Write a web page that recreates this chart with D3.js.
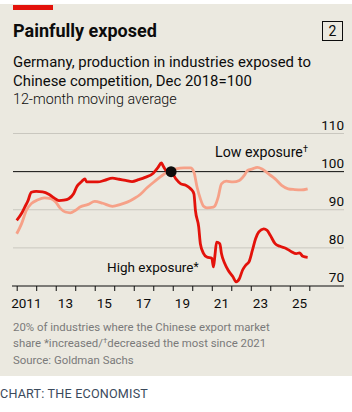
<!DOCTYPE html>
<html>
<head>
<meta charset="utf-8">
<script src="https://cdn.jsdelivr.net/npm/d3@7"></script>
<style>
  body { margin: 0; background: #fff; }
  svg { display: block; font-family: Roboto, "Noto Sans", sans-serif; }
</style>
</head>
<body>
<div id="chart"></div>
<script>
// data, Dec 2018 = 100
var highDates = ["2011-01","2011-04","2011-06","2011-08","2011-10","2012-01","2012-05","2012-09","2012-12",
  "2013-03","2013-06","2013-09","2013-12","2014-02","2014-05","2014-07","2014-08","2014-10","2015-03",
  "2015-07","2015-12","2016-04","2016-08","2016-12","2017-04","2017-08","2018-01","2018-04","2018-06",
  "2018-07","2018-09","2018-12","2019-03","2019-06","2019-09","2019-12","2020-02","2020-03","2020-05",
  "2020-06","2020-08","2020-10","2021-01","2021-02","2021-03","2021-04","2021-06","2021-07","2021-09",
  "2021-11","2022-02","2022-04","2022-06","2022-08","2022-10","2022-12","2023-02","2023-04","2023-06",
  "2023-09","2023-11","2024-01","2024-04","2024-07","2024-11","2025-02","2025-05","2025-07","2025-09","2025-12"]
var highValues = [87.2,89.0,90.7,92.4,94.6,94.8,94.7,94.0,93.1,
  92.4,92.5,92.9,94.2,96.1,97.4,98.1,97.3,97.3,97.3,
  97.7,98.3,98.0,97.7,97.4,97.9,98.5,99.6,101.1,102.3,
  101.6,100.3,100,98.1,96.8,96.4,95.5,94.2,89.8,85.5,
  81.1,78.5,77.6,77.3,75.0,78.0,81.5,81.1,78.5,75.9,
  74.2,72.4,71.1,71.9,74.2,75.5,76.4,79.4,82.4,84.2,
  85.0,84.6,83.3,81.1,80.4,79.8,79.0,78.5,78.7,77.8,77.5]

var lowDates = ["2011-01","2011-04","2011-07","2011-10","2012-02","2012-06","2012-10","2013-01","2013-04",
  "2013-07","2013-10","2014-01","2014-04","2014-09","2015-01","2015-06","2015-12","2016-05","2016-09",
  "2017-01","2017-05","2017-09","2018-02","2018-06","2018-09","2018-12","2019-03","2019-08","2019-12",
  "2020-02","2020-04","2020-06","2020-08","2020-10","2021-02","2021-03","2021-05","2021-07","2021-10",
  "2022-02","2022-06","2022-09","2022-11","2023-02","2023-05","2023-08","2023-12","2024-04","2024-08",
  "2024-12","2025-04","2025-08","2025-12"]
var lowValues = [83.7,86.3,89.8,91.6,92.6,93.1,92.9,92.0,90.3,
  89.4,89.2,89.8,90.7,91.4,92.2,91.7,90.9,91.4,92.0,
  92.9,94.0,95.7,97.5,98.8,99.7,100,100.7,101.0,101.0,
  99.9,95.9,92.9,90.9,90.5,90.7,91.0,93.3,96.8,97.5,
  97.3,97.7,99.0,100.3,100.7,101.1,100.7,99.4,98.1,96.4,
  95.5,95.3,95.2,95.5]

var yTicks = [70, 80, 90, 100, 110]
var xLabelYears = [2011, 2013, 2015, 2017, 2019, 2021, 2023, 2025]

var parseMonth = d3.timeParse("%Y-%m")
var high = highDates.map(function(d, i){ return {date: parseMonth(d), value: highValues[i]} })
var low = lowDates.map(function(d, i){ return {date: parseMonth(d), value: lowValues[i]} })

var W = 352, H = 412
var svg = d3.select("#chart").append("svg")
  .attr("width", W).attr("height", H)

// panel background + red flag
svg.append("rect").attr("x", 0).attr("y", 4).attr("width", W).attr("height", 372).attr("fill", "#ebe9e0")
svg.append("rect").attr("x", 13).attr("y", 5).attr("width", 40).attr("height", 5).attr("fill", "#e3120b")

// titles
svg.append("text").attr("x", 13).attr("y", 37).text("Painfully exposed")
  .style("font-size", "18px").style("font-weight", "bold").attr("fill", "#0c0c0c")
svg.append("rect").attr("x", 322.5).attr("y", 21.5).attr("width", 20).attr("height", 19)
  .attr("fill", "none").attr("stroke", "#0c0c0c").attr("stroke-width", 1)
svg.append("text").attr("x", 332.5).attr("y", 36).attr("text-anchor", "middle").text("2")
  .style("font-size", "14px").attr("fill", "#0c0c0c")

var subtitle = ["Germany, production in industries exposed to", "Chinese competition, Dec 2018=100"]
subtitle.forEach(function(t, i){
  svg.append("text").attr("x", 13).attr("y", 67 + i * 19).text(t)
    .style("font-size", "14.9px").attr("fill", "#0c0c0c")
})
svg.append("text").attr("x", 13).attr("y", 104).text("12-month moving average")
  .style("font-size", "14.3px").attr("fill", "#0c0c0c").style("font-weight", 300)

// scales
var x = d3.scaleTime()
  .domain([new Date(2011, 0, 1), new Date(2026, 0, 1)])
  .range([16.7, 309.3])
var y = d3.scaleLinear().domain([70, 110]).range([286, 133.5])

// gridlines
svg.append("g").selectAll("line")
  .data(yTicks.filter(function(d){ return d != 70 }))
  .join("line")
  .attr("x1", 13).attr("x2", 344)
  .attr("y1", function(d){ return y(d) }).attr("y2", function(d){ return y(d) })
  .attr("stroke", function(d){ return d == 100 ? "#0c0c0c" : "#c9c7bf" })
  .attr("stroke-width", 1)

svg.append("g").selectAll("text")
  .data(yTicks)
  .join("text")
  .attr("x", 344).attr("y", function(d){ return y(d) - 4 })
  .attr("text-anchor", "end")
  .text(function(d){ return d })
  .style("font-size", "13.5px").attr("fill", "#0c0c0c")

// x axis
var xAxis = svg.append("g").attr("transform", "translate(0," + y(70) + ")")
  .call(d3.axisBottom(x).ticks(d3.timeYear.every(1)).tickSize(5).tickFormat(""))
xAxis.select(".domain").remove()
xAxis.selectAll(".tick line").attr("stroke", "#0c0c0c")
svg.append("line").attr("x1", 12).attr("x2", 344).attr("y1", y(70)).attr("y2", y(70))
  .attr("stroke", "#0c0c0c").attr("stroke-width", 1)

svg.append("g").selectAll("text")
  .data(xLabelYears)
  .join("text")
  .attr("x", function(d){ return x(new Date(d, 6, 1)) })
  .attr("y", 308)
  .attr("text-anchor", "middle")
  .text(function(d){ return d == 2011 ? "2011" : String(d).slice(2) })
  .style("font-size", "13.5px").attr("fill", "#0c0c0c")

// lines
var line = d3.line()
  .x(function(d){ return x(d.date) })
  .y(function(d){ return y(d.value) })
  .curve(d3.curveMonotoneX)

svg.append("path").datum(low).attr("d", line)
  .attr("fill", "none").attr("stroke", "#f6a188").attr("stroke-width", 2.8)
  .attr("stroke-linejoin", "round")
svg.append("path").datum(high).attr("d", line)
  .attr("fill", "none").attr("stroke", "#e3120b").attr("stroke-width", 2.8)
  .attr("stroke-linejoin", "round")

svg.append("circle").attr("cx", x(parseMonth("2018-12"))).attr("cy", y(100)).attr("r", 5.5)
  .attr("fill", "#0c0c0c")

// series labels
var lowLabel = svg.append("text").attr("x", 215).attr("y", 157)
  .style("font-size", "14.2px").attr("fill", "#0c0c0c")
lowLabel.append("tspan").text("Low exposure")
lowLabel.append("tspan").text("†").attr("dy", -5).style("font-size", "9px")
var highLabel = svg.append("text").attr("x", 107).attr("y", 272)
  .style("font-size", "13.5px").attr("fill", "#0c0c0c")
highLabel.append("tspan").text("High exposure")
highLabel.append("tspan").text("*").attr("dy", -1).style("font-size", "12px")

// notes
var notes = svg.append("g").style("font-size", "11.4px").attr("fill", "#7a7a7a")
notes.append("text").attr("x", 13).attr("y", 331).text("20% of industries where the Chinese export market")
var n2 = notes.append("text").attr("x", 13).attr("y", 347)
n2.append("tspan").text("share *increased/")
n2.append("tspan").text("†").attr("dy", -4).style("font-size", "8px")
n2.append("tspan").text("decreased the most since 2021").attr("dy", 4)
notes.append("text").attr("x", 13).attr("y", 364).text("Source: Goldman Sachs")

svg.append("text").attr("x", 0).attr("y", 398).text("CHART: THE ECONOMIST")
  .style("font-size", "12.6px").style("letter-spacing", "0.2px").attr("fill", "#3b4a5c")
</script>
</body>
</html>
